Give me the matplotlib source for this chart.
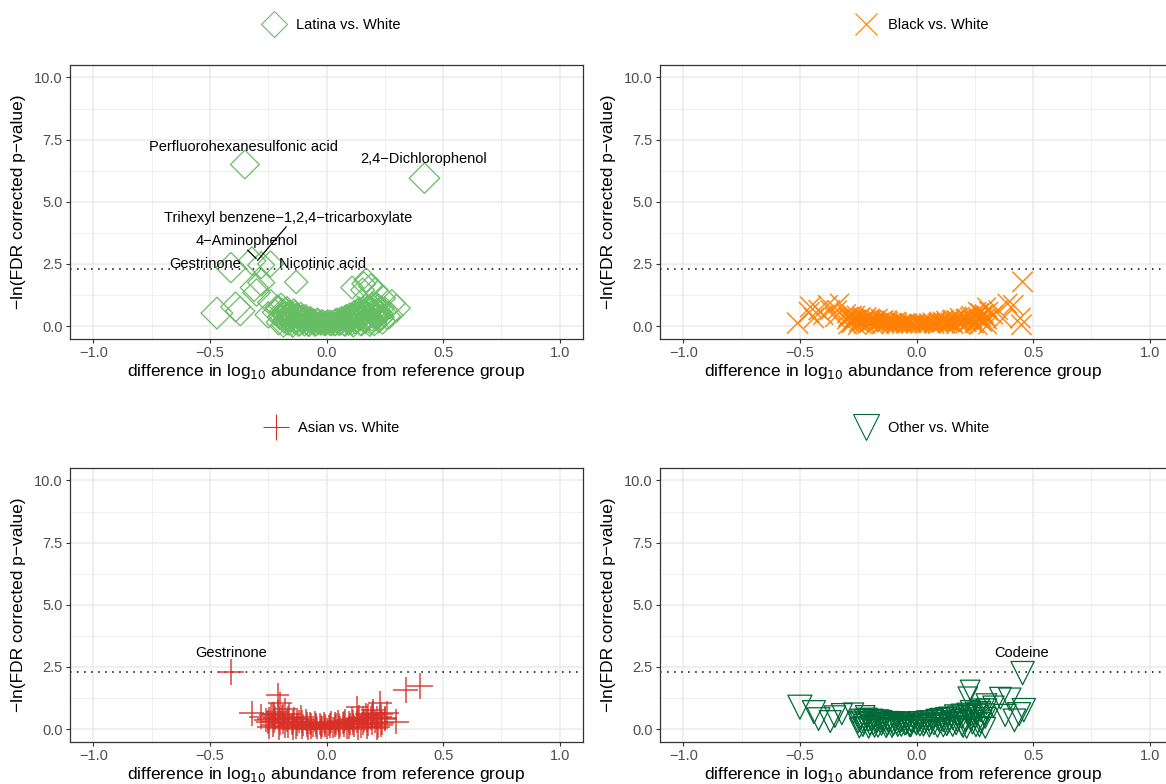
import matplotlib
matplotlib.use("Agg")
import matplotlib.pyplot as plt
import numpy as np
from matplotlib.lines import Line2D

plt.rcParams["font.family"] = ["Liberation Sans", "DejaVu Sans"]

# ---- data: (difference in log10 abundance, -ln(FDR p)) ----
latina_outer = [
    (-0.35, 6.5), (0.42, 5.95), (-0.41, 2.35), (-0.32, 2.62), (-0.28, 2.45), (-0.24, 2.5),
    (-0.13, 1.77), (-0.47, 0.52), (-0.39, 0.77), (-0.37, 0.6), (-0.31, 1.55), (-0.28, 1.75),
    (-0.30, 1.35), (-0.24, 0.95), (-0.25, 0.45), (0.11, 1.55), (0.17, 1.85), (0.155, 1.45),
    (0.21, 1.45), (0.24, 1.12), (0.28, 0.92), (0.30, 0.72), (0.27, 0.44), (0.22, 0.38),
    (0.16, 1.7), (0.19, 1.6),
]
latina_core = [
    (-0.22, 0.55), (-0.21, 0.75), (-0.20, 0.35), (-0.19, 0.6), (-0.18, 0.2), (-0.18, 0.45),
    (-0.17, 0.7), (-0.16, 0.3), (-0.16, 0.55), (-0.15, 0.1), (-0.15, 0.4), (-0.14, 0.62),
    (-0.13, 0.25), (-0.13, 0.45), (-0.12, 0.05), (-0.12, 0.35), (-0.11, 0.5), (-0.10, 0.15),
    (-0.10, 0.3), (-0.09, 0.42), (-0.08, 0.05), (-0.08, 0.22), (-0.07, 0.35), (-0.06, 0.12),
    (-0.06, 0.28), (-0.05, 0.02), (-0.05, 0.2), (-0.04, 0.3), (-0.03, 0.08), (-0.03, 0.18),
    (-0.02, 0.25), (-0.01, 0.03), (-0.01, 0.14), (0.0, 0.2), (0.0, 0.06), (0.01, 0.1),
    (0.02, 0.22), (0.02, 0.02), (0.03, 0.15), (0.04, 0.28), (0.04, 0.05), (0.05, 0.18),
    (0.06, 0.32), (0.06, 0.08), (0.07, 0.22), (0.08, 0.38), (0.08, 0.03), (0.09, 0.15),
    (0.10, 0.3), (0.10, 0.48), (0.11, 0.1), (0.12, 0.4), (0.12, 0.58), (0.13, 0.2),
    (0.14, 0.5), (0.14, 0.7), (0.15, 0.08), (0.15, 0.35), (0.16, 0.6), (0.17, 0.8),
    (0.17, 0.25), (0.18, 0.45), (0.19, 0.7), (0.19, 0.15), (0.20, 0.9), (0.20, 0.55),
    (0.21, 0.35), (0.22, 0.75), (0.23, 0.5), (0.24, 0.2), (0.25, 0.65), (0.26, 0.4),
    (-0.205, 0.15), (-0.205, 0.7), (-0.195, 0.4), (-0.195, 0.82), (-0.185, 0.05), (-0.185, 0.55),
    (-0.175, 0.3), (-0.175, 0.62), (-0.165, 0.12), (-0.165, 0.45), (-0.155, 0.25), (-0.155, 0.5),
    (-0.145, 0.02), (-0.145, 0.35), (-0.135, 0.15), (-0.135, 0.55), (-0.125, 0.2), (-0.125, 0.42),
    (-0.115, 0.08), (-0.115, 0.3), (-0.105, 0.22), (-0.105, 0.4), (-0.095, 0.05), (-0.095, 0.3),
    (-0.085, 0.12), (-0.085, 0.35), (-0.075, 0.02), (-0.075, 0.18), (-0.065, 0.2), (-0.065, 0.3),
    (-0.055, 0.1), (-0.055, 0.25), (-0.045, 0.03), (-0.045, 0.15), (-0.035, 0.12), (-0.035, 0.26),
    (-0.025, 0.05), (-0.025, 0.18), (-0.015, 0.1), (-0.015, 0.22), (-0.005, 0.02), (-0.005, 0.12),
    (0.005, 0.16), (0.005, 0.25), (0.015, 0.04), (0.015, 0.2), (0.025, 0.12), (0.025, 0.08),
    (0.035, 0.02), (0.035, 0.24), (0.045, 0.14), (0.045, 0.3), (0.055, 0.05), (0.055, 0.25),
    (0.065, 0.15), (0.065, 0.35), (0.075, 0.05), (0.075, 0.3), (0.085, 0.2), (0.085, 0.42),
    (0.095, 0.08), (0.095, 0.35), (0.105, 0.22), (0.105, 0.4), (0.115, 0.02), (0.115, 0.3),
    (0.125, 0.15), (0.125, 0.5), (0.135, 0.35), (0.135, 0.62), (0.145, 0.1), (0.145, 0.28),
    (0.155, 0.45), (0.155, 0.7), (0.165, 0.18), (0.165, 0.52), (0.175, 0.35), (0.175, 0.72),
    (0.185, 0.08), (0.185, 0.6), (0.195, 0.3), (0.195, 0.82), (0.205, 0.12), (0.205, 0.45),
    (0.215, 0.6), (0.215, 0.85), (0.225, 0.25), (0.225, 0.55), (0.235, 0.35), (0.235, 0.7),
]

black_outer = [
    (0.455, 1.78), (-0.51, 0.12), (-0.455, 0.77), (-0.42, 0.64), (-0.37, 0.64), (-0.34, 0.64),
    (-0.33, 0.92), (-0.44, 0.32), (-0.40, 0.45), (-0.35, 0.35), (-0.30, 0.5), (0.445, 0.32),
    (0.415, 0.84), (0.39, 0.9), (0.35, 0.64), (0.30, 0.77), (0.26, 0.6), (0.45, 0.05),
    (0.33, 0.45), (0.37, 0.3), (0.28, 0.35), (-0.46, 0.55), (-0.38, 0.85),
]
black_core = [
    (-0.30, 0.25), (-0.29, 0.4), (-0.28, 0.1), (-0.27, 0.3), (-0.26, 0.45), (-0.25, 0.15),
    (-0.24, 0.35), (-0.23, 0.05), (-0.22, 0.25), (-0.21, 0.4), (-0.20, 0.12), (-0.19, 0.3),
    (-0.18, 0.02), (-0.17, 0.2), (-0.16, 0.35), (-0.15, 0.08), (-0.14, 0.25), (-0.13, 0.15),
    (-0.12, 0.3), (-0.11, 0.04), (-0.10, 0.2), (-0.09, 0.1), (-0.08, 0.25), (-0.07, 0.02),
    (-0.06, 0.15), (-0.05, 0.08), (-0.04, 0.2), (-0.03, 0.03), (-0.02, 0.12), (-0.01, 0.06),
    (0.0, 0.15), (0.01, 0.02), (0.02, 0.1), (0.03, 0.18), (0.04, 0.05), (0.05, 0.12),
    (0.06, 0.22), (0.07, 0.03), (0.08, 0.15), (0.09, 0.25), (0.10, 0.08), (0.11, 0.18),
    (0.12, 0.28), (0.13, 0.04), (0.14, 0.2), (0.15, 0.32), (0.16, 0.1), (0.17, 0.25),
    (0.18, 0.38), (0.19, 0.05), (0.20, 0.2), (0.21, 0.35), (0.22, 0.12), (0.23, 0.45),
    (0.24, 0.28), (0.25, 0.08), (0.26, 0.4), (0.27, 0.55), (0.28, 0.2), (0.29, 0.5),
    (0.30, 0.35), (0.31, 0.6),
    (-0.295, 0.05), (-0.295, 0.35), (-0.275, 0.2), (-0.275, 0.45), (-0.255, 0.02), (-0.255, 0.3),
    (-0.235, 0.15), (-0.235, 0.4), (-0.215, 0.05), (-0.215, 0.3), (-0.195, 0.2), (-0.195, 0.35),
    (-0.175, 0.1), (-0.175, 0.28), (-0.155, 0.02), (-0.155, 0.2), (-0.135, 0.08), (-0.135, 0.3),
    (-0.115, 0.15), (-0.115, 0.25), (-0.095, 0.02), (-0.095, 0.18), (-0.075, 0.1), (-0.075, 0.2),
    (-0.055, 0.02), (-0.055, 0.15), (-0.035, 0.1), (-0.035, 0.18), (-0.015, 0.03), (-0.015, 0.12),
    (0.005, 0.08), (0.005, 0.18), (0.025, 0.02), (0.025, 0.14), (0.045, 0.1), (0.045, 0.2),
    (0.065, 0.05), (0.065, 0.15), (0.085, 0.02), (0.085, 0.2), (0.105, 0.12), (0.105, 0.25),
    (0.125, 0.06), (0.125, 0.18), (0.145, 0.1), (0.145, 0.28), (0.165, 0.02), (0.165, 0.3),
    (0.185, 0.15), (0.185, 0.25), (0.205, 0.05), (0.205, 0.32), (0.225, 0.2), (0.225, 0.38),
    (0.245, 0.1), (0.245, 0.42), (0.265, 0.02), (0.265, 0.3), (0.285, 0.15), (0.285, 0.45),
    (0.305, 0.05), (0.305, 0.25),
]

asian_outer = [
    (-0.41, 2.3), (0.34, 1.57), (0.40, 1.72), (-0.32, 0.64), (-0.21, 1.37), (-0.20, 1.04),
    (-0.26, 0.36), (0.23, 1.04), (0.26, 0.64), (0.13, 0.88), (0.20, 0.75), (-0.23, 0.6),
    (0.25, 0.4), (-0.18, 0.8), (0.18, 0.55), (-0.28, 0.5), (0.30, 0.3),
]
asian_core = [
    (-0.25, 0.3), (-0.24, 0.55), (-0.23, 0.15), (-0.22, 0.45), (-0.21, 0.7), (-0.20, 0.25),
    (-0.19, 0.5), (-0.18, 0.1), (-0.17, 0.35), (-0.16, 0.6), (-0.15, 0.2), (-0.14, 0.45),
    (-0.13, 0.05), (-0.12, 0.3), (-0.11, 0.5), (-0.10, 0.15), (-0.09, 0.35), (-0.08, 0.02),
    (-0.07, 0.25), (-0.06, 0.1), (-0.05, 0.3), (-0.04, 0.05), (-0.03, 0.2), (-0.02, 0.1),
    (-0.01, 0.25), (0.0, 0.02), (0.01, 0.15), (0.02, 0.28), (0.03, 0.06), (0.04, 0.2),
    (0.05, 0.32), (0.06, 0.1), (0.07, 0.25), (0.08, 0.38), (0.09, 0.04), (0.10, 0.2),
    (0.11, 0.42), (0.12, 0.12), (0.13, 0.3), (0.14, 0.5), (0.15, 0.08), (0.16, 0.35),
    (0.17, 0.6), (0.18, 0.2), (0.19, 0.45), (0.20, 0.65), (0.21, 0.3), (0.22, 0.1),
    (0.23, 0.5), (0.24, 0.25), (0.25, 0.45),
    (-0.245, 0.1), (-0.245, 0.42), (-0.225, 0.3), (-0.225, 0.6), (-0.205, 0.05), (-0.205, 0.4),
    (-0.185, 0.25), (-0.185, 0.55), (-0.165, 0.12), (-0.165, 0.45), (-0.145, 0.02), (-0.145, 0.3),
    (-0.125, 0.18), (-0.125, 0.4), (-0.105, 0.05), (-0.105, 0.3), (-0.085, 0.12), (-0.085, 0.25),
    (-0.065, 0.02), (-0.065, 0.2), (-0.045, 0.12), (-0.045, 0.22), (-0.025, 0.03), (-0.025, 0.15),
    (-0.005, 0.1), (-0.005, 0.2), (0.015, 0.05), (0.015, 0.22), (0.035, 0.12), (0.035, 0.25),
    (0.055, 0.02), (0.055, 0.2), (0.075, 0.12), (0.075, 0.3), (0.095, 0.05), (0.095, 0.28),
    (0.115, 0.2), (0.115, 0.32), (0.135, 0.02), (0.135, 0.4), (0.155, 0.22), (0.155, 0.45),
    (0.175, 0.08), (0.175, 0.35), (0.195, 0.25), (0.195, 0.55), (0.215, 0.05), (0.215, 0.45),
    (0.235, 0.15), (0.235, 0.6),
]

other_outer = [
    (0.455, 2.25), (-0.50, 0.88), (0.23, 1.57), (0.22, 1.3), (0.36, 1.24), (0.40, 1.2),
    (-0.44, 0.68), (-0.42, 0.4), (-0.37, 0.3), (0.46, 0.76), (0.44, 0.6), (-0.27, 0.64),
    (-0.32, 0.6), (0.30, 1.0), (0.33, 0.9), (0.38, 0.55), (0.42, 0.35), (-0.35, 0.5),
    (-0.22, 0.55), (0.27, 0.8),
]
other_core = [
    (-0.25, 0.25), (-0.24, 0.4), (-0.23, 0.1), (-0.22, 0.3), (-0.21, 0.45), (-0.20, 0.15),
    (-0.19, 0.35), (-0.18, 0.05), (-0.17, 0.25), (-0.16, 0.4), (-0.15, 0.12), (-0.14, 0.3),
    (-0.13, 0.02), (-0.12, 0.2), (-0.11, 0.35), (-0.10, 0.1), (-0.09, 0.28), (-0.08, 0.05),
    (-0.07, 0.2), (-0.06, 0.32), (-0.05, 0.1), (-0.04, 0.25), (-0.03, 0.03), (-0.02, 0.18),
    (-0.01, 0.3), (0.0, 0.08), (0.01, 0.22), (0.02, 0.35), (0.03, 0.05), (0.04, 0.25),
    (0.05, 0.4), (0.06, 0.12), (0.07, 0.3), (0.08, 0.45), (0.09, 0.02), (0.10, 0.2),
    (0.11, 0.38), (0.12, 0.5), (0.13, 0.1), (0.14, 0.3), (0.15, 0.48), (0.16, 0.6),
    (0.17, 0.15), (0.18, 0.4), (0.19, 0.62), (0.20, 0.05), (0.21, 0.3), (0.22, 0.55),
    (0.23, 0.75), (0.24, 0.2), (0.25, 0.45), (0.26, 0.68), (0.27, 0.1), (0.28, 0.35),
    (0.29, 0.6), (0.30, 0.8),
    (-0.245, 0.05), (-0.245, 0.32), (-0.225, 0.2), (-0.225, 0.4), (-0.205, 0.02), (-0.205, 0.3),
    (-0.185, 0.15), (-0.185, 0.42), (-0.165, 0.05), (-0.165, 0.3), (-0.145, 0.2), (-0.145, 0.38),
    (-0.125, 0.1), (-0.125, 0.3), (-0.105, 0.02), (-0.105, 0.22), (-0.085, 0.15), (-0.085, 0.35),
    (-0.065, 0.05), (-0.065, 0.25), (-0.045, 0.12), (-0.045, 0.35), (-0.025, 0.02), (-0.025, 0.22),
    (-0.005, 0.15), (-0.005, 0.38), (0.015, 0.05), (0.015, 0.28), (0.035, 0.15), (0.035, 0.4),
    (0.055, 0.02), (0.055, 0.28), (0.075, 0.12), (0.075, 0.42), (0.095, 0.3), (0.095, 0.48),
    (0.115, 0.05), (0.115, 0.25), (0.135, 0.2), (0.135, 0.52), (0.155, 0.08), (0.155, 0.35),
    (0.175, 0.28), (0.175, 0.55), (0.195, 0.12), (0.195, 0.42), (0.215, 0.02), (0.215, 0.65),
    (0.235, 0.35), (0.235, 0.55), (0.255, 0.1), (0.255, 0.6), (0.275, 0.25), (0.275, 0.7),
    (0.295, 0.05), (0.295, 0.45),
]

# labelled compounds: (name, label x, label y)
latina_labels = [
    ("Perfluorohexanesulfonic acid", -0.354, 7.19),
    ("2,4\u2212Dichlorophenol", 0.418, 6.71),
    ("Trihexyl benzene\u22121,2,4\u2212tricarboxylate", -0.163, 4.34),
    ("4\u2212Aminophenol", -0.341, 3.41),
    ("Gestrinone", -0.521, 2.49),
    ("Nicotinic acid", -0.017, 2.49),
]
latina_segments = [((-0.173, 3.99), (-0.295, 2.65)), ((-0.338, 3.05), (-0.302, 2.72))]
asian_labels = [("Gestrinone", -0.41, 3.05)]
other_labels = [("Codeine", 0.452, 3.05)]

threshold = -np.log(0.1)

W, H = 1166, 784
PX = 72 / 100  # points per pixel
GRID = "#EBEBEB"
DARK = "#333333"


def style_axes(ax):
    ax.set_xlim(-1.1, 1.1)
    ax.set_ylim(-0.5, 10.5)
    ax.set_xticks([-1.0, -0.5, 0.0, 0.5, 1.0])
    ax.set_xticks([-0.75, -0.25, 0.25, 0.75], minor=True)
    ax.set_yticks([0.0, 2.5, 5.0, 7.5, 10.0])
    ax.set_yticks([1.25, 3.75, 6.25, 8.75], minor=True)
    ax.xaxis.set_major_formatter(lambda v, p: f"{v:.1f}".replace("-", "\u2212"))
    ax.yaxis.set_major_formatter(lambda v, p: f"{v:.1f}")
    ax.grid(which="major", color=GRID, lw=1.1)
    ax.grid(which="minor", color=GRID, lw=0.55)
    ax.set_axisbelow(True)
    ax.tick_params(which="major", length=2.6, width=0.8, color=DARK, labelsize=10.5,
                   labelcolor="#4D4D4D", pad=2.5)
    ax.tick_params(which="minor", length=0)
    for s in ax.spines.values():
        s.set_color(DARK)
        s.set_linewidth(0.9)
    ax.axhline(threshold, color="black", lw=1.1, ls=(0, (1, 3.6)), zorder=1.5)


def draw_panel(ax, outer, core, marker, color, legend, base_px, k_px, line_marker, leg_px, xlab_x):
    style_axes(ax)
    points = core + outer
    x = np.array([p[0] for p in points])
    y = np.array([p[1] for p in points])
    width_px = base_px + k_px * np.abs(x)
    ms = width_px * PX
    if marker == "D":
        ms = ms / np.sqrt(2)
    if line_marker:
        ax.scatter(x, y, s=ms ** 2, marker=marker, c=color, linewidths=1.1, alpha=0.9, zorder=2)
    else:
        ax.scatter(x, y, s=ms ** 2, marker=marker, facecolors="none", edgecolors=color,
                   linewidths=0.9, zorder=2)
    leg_ms = leg_px * PX / (np.sqrt(2) if marker == "D" else 1)
    h = Line2D([], [], ls="none", marker=marker, markersize=leg_ms, color=color,
               markerfacecolor="none", markeredgewidth=0.8)
    ax.legend(handles=[h], labels=[legend], loc="center", bbox_to_anchor=(0.51, 1.146),
              frameon=False, fontsize=10.5, handletextpad=0.7, borderaxespad=0,
              handlelength=1.6)
    ax.set_xlabel("difference in log$_{10}$ abundance from reference group", fontsize=12.5,
                  va="top")
    ax.xaxis.set_label_coords(xlab_x, -0.085)
    ax.set_ylabel("\u2212ln(FDR corrected p\u2212value)", fontsize=12.5, va="center")
    ax.yaxis.set_label_coords(-0.101, 0.5)


def add_labels(ax, labels, segments=()):
    for (a, b) in segments:
        ax.plot([a[0], b[0]], [a[1], b[1]], color="black", lw=0.9, zorder=3)
    for name, lx, ly in labels:
        ax.text(lx, ly, name, ha="center", va="center", fontsize=10.5, color="black", zorder=4)


fig = plt.figure(figsize=(W / 100, H / 100), dpi=100)
aw, ah = 513 / W, 273.5 / H
ax_tl = fig.add_axes([70 / W, (H - 338.5) / H, aw, ah])
ax_tr = fig.add_axes([660 / W, (H - 338.5) / H, aw, ah])
ax_bl = fig.add_axes([70 / W, (H - 741.5) / H, aw, ah])
ax_br = fig.add_axes([660 / W, (H - 741.5) / H, aw, ah])

draw_panel(ax_tl, latina_outer, latina_core, "D", "#66BD63", "Latina vs. White", 20, 25, False, 26, 0.499)
draw_panel(ax_tr, black_outer, black_core, "x", "#FF7F00", "Black vs. White", 15, 12, True, 22, 0.474)
draw_panel(ax_bl, asian_outer, asian_core, "+", "#D73027", "Asian vs. White", 21, 12, True, 26, 0.499)
draw_panel(ax_br, other_outer, other_core, "v", "#006837", "Other vs. White", 16, 16, False, 26, 0.474)

# the right-hand panels run past the figure edge, so no closing border shows there
for ax in (ax_tr, ax_br):
    ax.spines["right"].set_visible(False)

add_labels(ax_tl, latina_labels, latina_segments)
add_labels(ax_bl, asian_labels)
add_labels(ax_br, other_labels)

fig.savefig("out.png", dpi=100)
